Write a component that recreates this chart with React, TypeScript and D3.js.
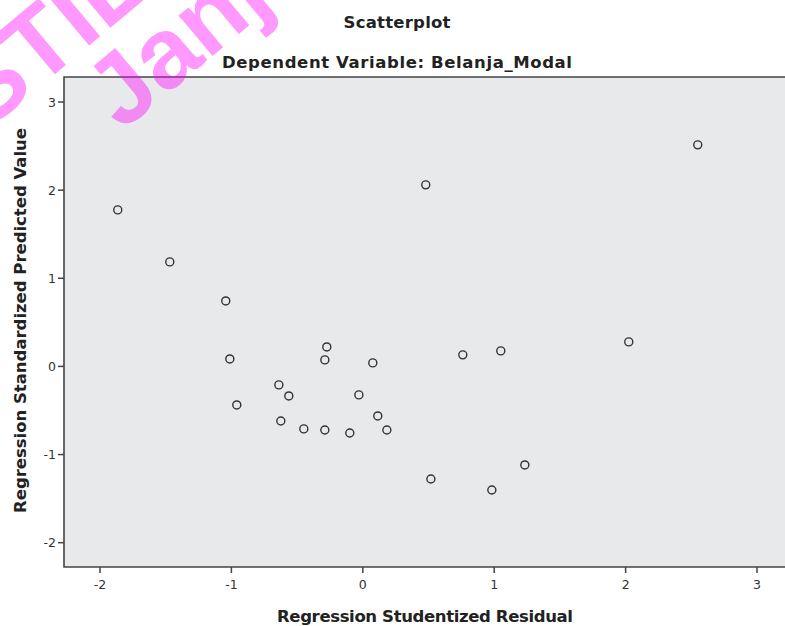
import React from "react";
import * as d3 from "d3";

// residuals (x) and predicted values (y)
const residuals = [-1.865, -1.469, -1.043, -1.012, -0.959, -0.639, -0.563, -0.624, -0.449, -0.289, -0.289, -0.274, -0.099, -0.030, 0.076, 0.114, 0.183, 0.479, 0.518, 0.761, 1.050, 0.982, 1.233, 2.024, 2.549];
const predicted = [1.776, 1.186, 0.743, 0.085, -0.437, -0.21, -0.335, -0.619, -0.709, -0.721, 0.074, 0.221, -0.755, -0.323, 0.040, -0.562, -0.721, 2.060, -1.277, 0.131, 0.176, -1.402, -1.118, 0.278, 2.514];
const xTicks = [-2, -1, 0, 1, 2, 3];
const yTicks = [-2, -1, 0, 1, 2, 3];

const W = 785, H = 626;
const plot = { left: 64, right: 785, top: 77, bottom: 567 };
const font = "'DejaVu Sans', Verdana, sans-serif";
const ink = "#222";

export default function App() {
  const x = d3.scaleLinear().domain([-2.274, 3.213]).range([plot.left, plot.right]);
  const y = d3.scaleLinear().domain([-2.276, 3.284]).range([plot.bottom, plot.top]);
  const pts = residuals.map((r, i) => ({ r, p: predicted[i] }));

  return (
    <div style={{ position: "absolute", left: 0, top: 0 }}>
      <svg width={W} height={H} style={{ display: "block", background: "#fff" }}>
        {/* plot area */}
        <rect x={plot.left} y={plot.top} width={plot.right - plot.left + 5} height={plot.bottom - plot.top} fill="#e8e9eb" />
        <path d={`M${plot.right + 5},${plot.top}H${plot.left}V${plot.bottom}H${plot.right + 5}`} fill="none" stroke="#444" strokeWidth={1.6} />

        {/* y axis */}
        {yTicks.map(t => (
          <g key={"y" + t} transform={`translate(${plot.left},${y(t)})`}>
            <line x1={-6} x2={0} stroke="#444" strokeWidth={1.5} />
            <text x={-8} dy="0.36em" textAnchor="end" fontFamily={font} fontSize={12.5} fill="#333">{t}</text>
          </g>
        ))}
        {/* x axis */}
        {xTicks.map(t => (
          <g key={"x" + t} transform={`translate(${x(t)},${plot.bottom})`}>
            <line y1={0} y2={6} stroke="#444" strokeWidth={1.5} />
            <text y={22} textAnchor="middle" fontFamily={font} fontSize={12.5} fill="#333">{t}</text>
          </g>
        ))}

        {/* points */}
        {pts.map((d, i) => (
          <circle key={i} cx={x(d.r)} cy={y(d.p)} r={4} fill="none" stroke="#333" strokeWidth={1.4} />
        ))}

        {/* titles */}
        <g fontFamily={font} fontWeight="bold" fontSize={16.5} fill={ink} textAnchor="middle">
          <text x={397} y={28} textLength={107}>Scatterplot</text>
          <text x={397} y={68} textLength={350}>Dependent Variable: Belanja_Modal</text>
          <text x={425} y={622} textLength={296}>Regression Studentized Residual</text>
          <text transform="translate(26,320.5) rotate(-90)" textLength={385}>Regression Standardized Predicted Value</text>
        </g>

        {/* watermark */}
        <g fill="#ff00ff" opacity={0.4} fontFamily="'Liberation Sans', Arial, sans-serif" fontWeight="bold" fontSize={100}>
          <text transform="translate(-14,132) rotate(-40)">STIE</text>
          <text transform="translate(122,132) rotate(-40)">Janji</text>
        </g>
      </svg>
    </div>
  );
}
